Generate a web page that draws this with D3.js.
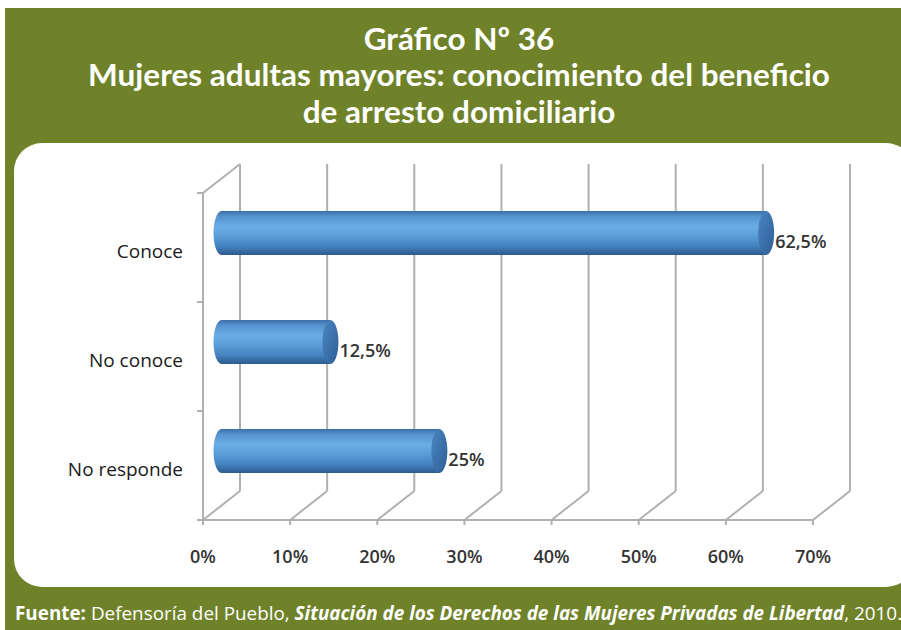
<!DOCTYPE html>
<html>
<head>
<meta charset="utf-8">
<script src="https://cdn.jsdelivr.net/npm/d3@7"></script>
<style>
  body { margin: 0; background: #fff; }
  svg { display: block; }
</style>
</head>
<body>
<svg id="chart" width="901" height="630"></svg>
<script>
(function () {
    var categories = ["Conoce", "No conoce", "No responde"];
    var values = [62.5, 12.5, 25];
    var valueLabels = ["62,5%", "12,5%", "25%"];
    var ticks = [0, 10, 20, 30, 40, 50, 60, 70];
    var titleLines = ["Gráfico Nº 36",
        "Mujeres adultas mayores: conocimiento del beneficio",
        "de arresto domiciliario"];

    var width = 901,
        height = 630,
        green = "#6f8229",
        grid = "#b0b0b0",
        dx = 37, dy = -29;   // depth of the 3D box

    var svg = d3.select("#chart");

    // frame
    svg.append("rect").attr("x", 5).attr("y", 8).attr("width", width - 5).attr("height", height - 8)
        .style("fill", green);
    svg.append("rect").attr("x", 14).attr("y", 143).attr("width", 900).attr("height", 444)
        .attr("rx", 28).attr("ry", 28).style("fill", "#fff");

    // title: condensed look by squeezing horizontally
    var title = svg.append("g");
    var tl = title.selectAll("text").data(titleLines).enter().append("text")
        .attr("x", 0)
        .attr("y", function (d, i) { return 50 + i * 36.5; })
        .attr("text-anchor", "middle")
        .style("font-family", "Lato, sans-serif")
        .style("font-weight", "bold")
        .style("font-size", "31px")
        .style("fill", "#fff")
        .text(function (d) { return d; });
    var len = tl.nodes()[1].getComputedTextLength();
    title.attr("transform", "translate(459,0) scale(" + (742 / len) + ",1)");

    // scales
    var x = d3.scaleLinear().domain([0, 70]).range([203, 813]);
    var y = d3.scaleBand().domain(categories).range([193, 520]);
    var floorY = 520, topY = 193;

    var axes = svg.append("g").style("stroke", grid).style("stroke-width", 2).style("fill", "none");

    // back wall gridlines
    axes.selectAll(".grid").data(ticks).enter().append("line")
        .attr("x1", function (d) { return x(d) + dx; })
        .attr("x2", function (d) { return x(d) + dx; })
        .attr("y1", floorY + dy)
        .attr("y2", topY + dy);
    // floor diagonals
    axes.selectAll(".diag").data(ticks).enter().append("line")
        .attr("x1", function (d) { return x(d); })
        .attr("x2", function (d) { return x(d) + dx; })
        .attr("y1", floorY)
        .attr("y2", floorY + dy);
    // front floor edge and ticks
    axes.append("line").attr("x1", x(0)).attr("x2", x(70)).attr("y1", floorY).attr("y2", floorY);
    axes.selectAll(".xt").data(ticks).enter().append("line")
        .attr("x1", function (d) { return x(d); })
        .attr("x2", function (d) { return x(d); })
        .attr("y1", floorY).attr("y2", floorY + 5);
    // left wall
    axes.append("line").attr("x1", x(0)).attr("x2", x(0)).attr("y1", topY).attr("y2", floorY);
    axes.append("line").attr("x1", x(0)).attr("x2", x(0) + dx).attr("y1", topY).attr("y2", topY + dy);
    var bounds = categories.map(function (c) { return y(c); }).concat([floorY]);
    axes.selectAll(".yt").data(bounds).enter().append("line")
        .attr("x1", x(0) - 6).attr("x2", x(0))
        .attr("y1", function (d) { return d; })
        .attr("y2", function (d) { return d; });

    // tick labels
    svg.selectAll(".tl").data(ticks).enter().append("text")
        .attr("x", function (d) { return x(d); })
        .attr("y", 563)
        .attr("text-anchor", "middle")
        .style("font-family", "'Open Sans', sans-serif")
        .style("font-weight", 600)
        .style("font-size", "18px")
        .style("fill", "#333")
        .text(function (d) { return d + "%"; });

    // category labels
    svg.selectAll(".cl").data(categories).enter().append("text")
        .attr("x", 183)
        .attr("y", function (d) { return y(d) + y.bandwidth() / 2 + 10.5; })
        .attr("text-anchor", "end")
        .style("font-family", "'Open Sans', sans-serif")
        .style("font-weight", 500)
        .style("font-size", "19px")
        .style("fill", "#1a1a1a")
        .text(function (d) { return d; });

    // cylinder gradients
    var defs = svg.append("defs");
    var body = defs.append("linearGradient").attr("id", "body")
        .attr("x1", 0).attr("y1", 0).attr("x2", 0).attr("y2", 1);
    [[0, "#3b6fa8"], [0.12, "#5592cf"], [0.35, "#6aade4"], [0.55, "#5d9fdb"], [0.8, "#4482c0"], [1, "#2d5a8d"]]
        .forEach(function (s) { body.append("stop").attr("offset", s[0]).attr("stop-color", s[1]); });
    var face = defs.append("linearGradient").attr("id", "face")
        .attr("x1", 0).attr("y1", 0).attr("x2", 1).attr("y2", 1);
    [[0, "#4a86c2"], [1, "#2e5e94"]]
        .forEach(function (s) { face.append("stop").attr("offset", s[0]).attr("stop-color", s[1]); });

    var h = 22, rx = 8;
    var bars = svg.selectAll(".bar").data(values).enter().append("g");
    bars.each(function (v, i) {
        var g = d3.select(this);
        var cy = y(categories[i]) + y.bandwidth() / 2 + dy / 2;
        var xl = x(0) + dx / 2, xr = x(v) + dx / 2;
        var p = d3.path();
        p.moveTo(xl, cy - h);
        p.lineTo(xr, cy - h);
        p.lineTo(xr, cy + h);
        p.lineTo(xl, cy + h);
        g.append("path")
            .attr("d", p.toString() + "A" + rx + "," + h + " 0 0 1 " + xl + "," + (cy - h) + "Z")
            .style("fill", "url(#body)");
        g.append("ellipse").attr("cx", xr).attr("cy", cy).attr("rx", rx).attr("ry", h)
            .style("fill", "url(#face)");
        g.append("text")
            .attr("x", xr + rx + 1)
            .attr("y", cy + 15)
            .style("font-family", "'Open Sans', sans-serif")
            .style("font-weight", 600)
            .style("font-size", "18px")
            .style("fill", "#333")
            .text(valueLabels[i]);
    });

    // source
    var src = svg.append("text").attr("x", 15).attr("y", 620)
        .style("font-family", "'Open Sans', sans-serif")
        .style("font-size", "17px")
        .style("fill", "#fff");
    src.append("tspan").style("font-weight", "bold").text("Fuente:");
    src.append("tspan").text(" Defensoría del Pueblo, ");
    src.append("tspan").style("font-weight", "bold").style("font-style", "italic")
        .text("Situación de los Derechos de las Mujeres Privadas de Libertad");
    src.append("tspan").text(", 2010.");
    var sl = src.node().getComputedTextLength();
    src.style("font-size", (17 * 888 / sl) + "px");
}());
</script>
</body>
</html>
